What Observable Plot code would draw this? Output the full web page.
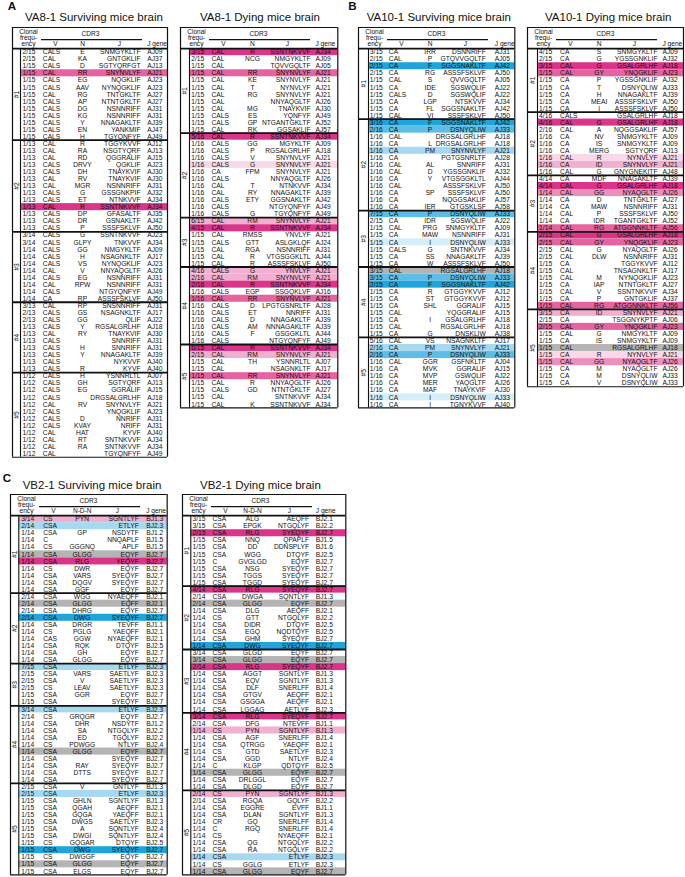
<!DOCTYPE html>
<html><head><meta charset="utf-8">
<script src="https://cdn.jsdelivr.net/npm/d3@7"></script>
<script src="https://cdn.jsdelivr.net/npm/@observablehq/plot@0.6"></script>
<style>
body{margin:0;background:#fff;font-family:"Liberation Sans",Arial,Helvetica,sans-serif;color:#111;}
#page{position:relative;width:685px;height:877px;overflow:hidden;background:#fff;}
.letter{position:absolute;font-weight:bold;font-size:11.6px;line-height:1;}
.title{position:absolute;font-size:11.5px;line-height:1;white-space:nowrap;}
.tbl{position:absolute;}
.tbl svg{display:block;}
</style></head><body><div id="page"></div>
<script>
// ---------- DATA ----------
const panelLetters = ["A","B","C"];
const tableTitles = ["VA8-1 Surviving mice brain","VA8-1 Dying mice brain","VA10-1 Surviving mice brain","VA10-1 Dying mice brain","VB2-1 Surviving mice brain","VB2-1 Dying mice brain"];
const headerFreq = ["Clonal","frequ-","ency"];
const headerCDR3 = "CDR3";
const headerCols = ["V","J","J gene"];
const nLabels = ["N","N","N","N","N-D-N","N-D-N"];
// highlight categories -> colours
const hlKeys = ["P5","P4","P3","P2","P1","B4","B3","B2","B1","G"];
const hlColors = ["#db3589","#e5649f","#ec8fbd","#f2b0d0","#f9d8e8","#1fa5db","#5dbde7","#a6d9f0","#d5edf8","#b4b4b4"];

// rows: [mouse, clonal frequency, V, N, J, J gene, highlight]
const va8SurvRows = [
["#1","2/15","CALS","E","SNMGYKLTF","AJ09",""],
["#1","2/15","CAL","KA","GNTGKLIF","AJ37",""],
["#1","1/15","CALS","D","SGTYQRFGT","AJ13",""],
["#1","1/15","CAL","RR","SNYNVLYF","AJ21","P4"],
["#1","1/15","CALS","EG","NQGKLIF","AJ23",""],
["#1","1/15","CALS","AAV","NYNQGKLIF","AJ23",""],
["#1","1/15","CAL","RG","TNTGKLTF","AJ27",""],
["#1","1/15","CALS","AP","NTNTGKLTF","AJ27",""],
["#1","1/15","CALS","DG","NSNNRIFF","AJ31",""],
["#1","1/15","CALS","KG","NSNNRIFF","AJ31",""],
["#1","1/15","CALS","Y","NNAGAKLTF","AJ39",""],
["#1","1/15","CALS","EN","YANKMIF","AJ47",""],
["#1","1/15","CALS","H","TGYQNFYF","AJ49",""],
["#2","1/13","CAL","R","TGGYKVVF","AJ12",""],
["#2","1/13","CAL","RA","NSGTYQRF","AJ13",""],
["#2","1/13","CAL","RD","QGGRALIF","AJ15",""],
["#2","1/13","CALS","DRVY","QGKLIF","AJ23",""],
["#2","1/13","CALS","DH","TNAYKVIF","AJ30",""],
["#2","1/13","CAL","RV","TNAYKVIF","AJ30",""],
["#2","1/13","CAL","MGR","NSNNRIFF","AJ31",""],
["#2","1/13","CALS","G","GSSGNKPIF","AJ32",""],
["#2","1/13","CALS","ET","NTNKVVF","AJ34",""],
["#2","1/13","CAL","R","SSNTNKVVF","AJ34","P5"],
["#2","1/13","CALS","DP","GFASALTF","AJ35",""],
["#2","1/13","CALS","DR","GSNAKLTF","AJ42",""],
["#2","1/13","CALS","P","SSSFSKLVF","AJ50",""],
["#3","3/14","CALS","G","SSNTNKVVF","AJ23",""],
["#3","3/14","CALS","GLPY","TNKVVF","AJ34",""],
["#3","1/14","CALS","GG","NMGYKLTF","AJ09",""],
["#3","1/14","CALS","H","NSAGNKLTF","AJ17",""],
["#3","1/14","CALS","VS","NYNQGKLIF","AJ23",""],
["#3","1/14","CAL","V","NNYAQGLTF","AJ26",""],
["#3","1/14","CALS","EG","NSNNRIFF","AJ31",""],
["#3","1/14","CAL","RPW","NSNNRIFF","AJ31",""],
["#3","1/14","CALS","","NTGYQNFYF","AJ49",""],
["#3","1/14","CA","RP","ASSSFSKLVF","AJ50",""],
["#4","3/13","CAL","RP","SNSNNRIFF","AJ31",""],
["#4","2/13","CALS","GS","NSAGNKLTF","AJ17",""],
["#4","2/13","CALS","GG","QLIF","AJ22",""],
["#4","1/13","CALS","Y","RGSALGRLHF","AJ18",""],
["#4","1/13","CAL","RY","TNAYKVIF","AJ30",""],
["#4","1/13","CALS","","SNNRIFF","AJ31",""],
["#4","1/13","CALS","H","SNNRIFF","AJ31",""],
["#4","1/13","CALS","Y","NNAGAKLTF","AJ39",""],
["#4","1/13","CALS","","NYKVVF","AJ40",""],
["#4","1/13","CALS","R","KYVF","AJ40",""],
["#5","1/12","CALS","H","YSNNRLTL","AJ07",""],
["#5","1/12","CALS","GH","SGTYQRF","AJ13",""],
["#5","1/12","CALS","EG","GGRALIF","AJ15",""],
["#5","1/12","CALS","","DRGSALGRLHF","AJ18",""],
["#5","1/12","CAL","RV","SNYNVLYF","AJ21",""],
["#5","1/12","CALS","","YNQGKLIF","AJ23",""],
["#5","1/12","CALS","D","NNRIFF","AJ31",""],
["#5","1/12","CALS","KVAY","NRIFF","AJ31",""],
["#5","1/12","CAL","HAT","KYVF","AJ40",""],
["#5","1/12","CAL","RT","SNTNKVVF","AJ34",""],
["#5","1/12","CAL","RA","SNTNKVVF","AJ34",""],
["#5","1/12","CAL","","TGYQNFYF","AJ49",""]
];
const va8DyingRows = [
["#1","3/15","CAL","R","SSNTNKVVF","AJ34","P5"],
["#1","2/15","CAL","NCG","NMGYKLTF","AJ09",""],
["#1","1/15","CAL","","TQVVGQLTF","AJ05",""],
["#1","1/15","CAL","RR","SNYNVLYF","AJ21","P4"],
["#1","1/15","CAL","KE","SNYNVLYF","AJ21",""],
["#1","1/15","CAL","T","NYNVLYF","AJ21",""],
["#1","1/15","CAL","RG","SNYNVLYF","AJ21",""],
["#1","1/15","CAL","","NNYAQGLTF","AJ26",""],
["#1","1/15","CAL","MG","TNAYKVIF","AJ30",""],
["#1","1/15","CALS","ES","YQNFYF","AJ49",""],
["#1","1/15","CALS","GP","NTGANTGKLTF","AJ52",""],
["#1","1/15","CAL","RK","GGSAKLIF","AJ57",""],
["#2","5/16","CAL","R","SSNTNKVVF","AJ34","P5"],
["#2","1/16","CALS","GG","MGYKLTF","AJ09",""],
["#2","1/16","CALS","P","RGSALGRLHF","AJ18",""],
["#2","1/16","CALS","V","SNYNVLYF","AJ21",""],
["#2","1/16","CALS","G","SNYNVLYF","AJ21","P1"],
["#2","1/16","CA","FPM","SNYNVLYF","AJ21",""],
["#2","1/16","CALS","","NNYAQGLTF","AJ26",""],
["#2","1/16","CAL","T","NTNKVVF","AJ34",""],
["#2","1/16","CAL","RY","NNAGAKLTF","AJ39",""],
["#2","1/16","CALS","ETY","GGSNAKLTF","AJ42",""],
["#2","1/16","CALS","","NTGYQNFYF","AJ49",""],
["#2","1/16","CALS","G","TGYQNFYF","AJ49",""],
["#3","6/15","CAL","RM","SNYNVLYF","AJ21","P2"],
["#3","4/15","CAL","R","SSNTNKVVF","AJ34","P5"],
["#3","1/15","CAL","RMSS","YNVLYF","AJ21",""],
["#3","1/15","CALS","GTT","ASLGKLQF","AJ24",""],
["#3","1/15","CAL","RGA","NSNNRIFF","AJ31",""],
["#3","1/15","CAL","R","VTGSGGKLTL","AJ44",""],
["#3","1/15","CAL","R","ASSSFSKLVF","AJ50",""],
["#4","4/16","CALS","G","YNVLYF","AJ21","P2"],
["#4","2/16","CAL","RM","SNYNVLYF","AJ21","P2"],
["#4","2/16","CAL","R","SSNTNKVVF","AJ34","P5"],
["#4","1/16","CALS","EGP","SSGQKLVF","AJ16",""],
["#4","1/16","CAL","RR","SNYNVLYF","AJ21","P4"],
["#4","1/16","CALS","D","LPGTGSNRLTF","AJ28",""],
["#4","1/16","CALS","ET","NNRIFF","AJ31",""],
["#4","1/16","CALS","D","NNAGAKLTF","AJ39",""],
["#4","1/16","CALS","AM","NNNAGAKLTF","AJ39",""],
["#4","1/16","CALS","F","GSGGKLTL","AJ44",""],
["#4","1/16","CALS","","NTGYQNFYF","AJ49",""],
["#5","6/15","CAL","R","SSNTNKVVF","AJ34","P5"],
["#5","2/15","CAL","RM","SNYNVLYF","AJ21","P2"],
["#5","1/15","CAL","TH","YSNNRLTL","AJ07",""],
["#5","1/15","CAL","","NSAGNKLTF","AJ17",""],
["#5","1/15","CAL","RR","SNYNVLYF","AJ21","P4"],
["#5","1/15","CAL","R","NNYAQGLTF","AJ26",""],
["#5","1/15","CALS","GD","NTNTGKLTF","AJ27",""],
["#5","1/15","CAL","","SNTNKVVF","AJ34",""],
["#5","1/15","CAL","K","SSNTNKVVF","AJ34",""]
];
const va10SurvRows = [
["#1","3/15","CA","IRR","DSNNRIFF","AJ31",""],
["#1","2/15","CAL","P","GTQVVGQLTF","AJ05",""],
["#1","2/15","CA","F","SGGSNAKLTF","AJ42","B4"],
["#1","2/15","CA","RG","ASSSFSKLVF","AJ50",""],
["#1","1/15","CAL","S","QVVGQLTF","AJ05",""],
["#1","1/15","CA","IDE","SGSWQLIF","AJ22",""],
["#1","1/15","CALS","D","SGSWQLIF","AJ22",""],
["#1","1/15","CA","LGP","NTSKVVF","AJ34",""],
["#1","1/15","CA","FL","SGGSNAKLTF","AJ42",""],
["#1","1/15","CAL","VI","SSSFSKLVF","AJ50",""],
["#2","3/16","CA","F","SGGSNAKLTF","AJ42","B4"],
["#2","2/16","CA","P","DSNYQLIW","AJ33","B3"],
["#2","1/16","CAL","","DRGSALGRLHF","AJ18",""],
["#2","1/16","CA","L","DRGSALGRLHF","AJ18",""],
["#2","1/16","CA","PM","SNYNVLYF","AJ21","B2"],
["#2","1/16","CA","","PGTGSNRLTF","AJ28",""],
["#2","1/16","CAL","AL","SNNRIFF","AJ31",""],
["#2","1/16","CAL","D","YGSSGNKLIF","AJ32",""],
["#2","1/16","CA","Y","VTGSGGKLTL","AJ44",""],
["#2","1/16","CAL","","ASSSFSKLVF","AJ50",""],
["#2","1/16","CA","SP","SSSFSKLVF","AJ50",""],
["#2","1/16","CA","","NQGGSAKLIF","AJ57",""],
["#2","1/16","CA","IER","GTGSKLSF","AJ58",""],
["#3","7/15","CA","P","DSNYQLIW","AJ33","B3"],
["#3","2/15","CA","IDR","SGSWQLIF","AJ22",""],
["#3","1/15","CAL","PRG","SNMGYKLTF","AJ09",""],
["#3","1/15","CA","MAW","NSNNRIFF","AJ31",""],
["#3","1/15","CA","I","DSNYQLIW","AJ33","B1"],
["#3","1/15","CALS","G","SNTNKVVF","AJ34",""],
["#3","1/15","CA","SS","NNAGAKLTF","AJ39",""],
["#3","1/15","CA","W","ASSSFSKLVF","AJ50",""],
["#4","3/15","CAL","","RGSALGRLHF","AJ18","G"],
["#4","3/15","CA","P","DSNYQLIW","AJ33","B3"],
["#4","2/15","CA","F","SGGSNAKLTF","AJ42","B4"],
["#4","1/15","CA","R","GTGGYKVVF","AJ12",""],
["#4","1/15","CA","ST","GTGGYKVVF","AJ12",""],
["#4","1/15","CA","SHL","GGRALIF","AJ15",""],
["#4","1/15","CAL","","YQGGRALIF","AJ15",""],
["#4","1/15","CA","I","GSALGRLHF","AJ18",""],
["#4","1/15","CAL","","RGSALGRLHF","AJ18",""],
["#4","1/15","CA","G","DNSKLIW","AJ38",""],
["#5","5/16","CAL","VS","NSAGNKLTF","AJ17",""],
["#5","2/16","CA","PM","SNYNVLYF","AJ21","B2"],
["#5","2/16","CA","P","DSNYQLIW","AJ33","B3"],
["#5","1/16","CAL","GGR","GSFNKLTF","AJ04",""],
["#5","1/16","CA","MVK","GGRALIF","AJ15",""],
["#5","1/16","CA","MVP","GSWQLIF","AJ22",""],
["#5","1/16","CA","MER","YAQGLTF","AJ26",""],
["#5","1/16","CA","MAF","TNAYKVIF","AJ30",""],
["#5","1/16","CA","I","DSNYQLIW","AJ33","B1"],
["#5","1/16","CA","I","TGNYKVVF","AJ40",""]
];
const va10DyingRows = [
["#1","4/15","CA","S","SNMGYKLTF","AJ09",""],
["#1","2/15","CA","G","YGSSGNKLIF","AJ32",""],
["#1","3/15","CAL","G","GSALGRLHF","AJ18","P5"],
["#1","1/15","CAL","GY","YNQGKLIF","AJ23","P4"],
["#1","1/15","CA","P","YGSSGNKLIF","AJ32",""],
["#1","1/15","CA","T","DSNYQLIW","AJ33",""],
["#1","1/15","CA","H","NNAGAKLTF","AJ39",""],
["#1","1/15","CA","MEAI","ASSSFSKLVF","AJ50",""],
["#1","1/15","CA","I","ASSSFSKLVF","AJ50",""],
["#2","4/16","CALS","","GSALGRLHF","AJ18",""],
["#2","4/16","CAL","G","GSALGRLHF","AJ18","P5"],
["#2","2/16","CAL","A","NQGGSAKLIF","AJ57",""],
["#2","1/16","CA","NV","SNMGYKLTF","AJ09",""],
["#2","1/16","CA","IS","SNMGYKLTF","AJ09",""],
["#2","1/16","CA","MERG","SGTYQRF","AJ13",""],
["#2","1/16","CAL","R","NYNVLYF","AJ21","P1"],
["#2","1/16","CA","ID","SNYNVLYF","AJ21","P2"],
["#2","1/16","CAL","G","GNYGNEKITF","AJ48",""],
["#3","4/14","CA","MDF","NNAGAKLTF","AJ39",""],
["#3","4/14","CAL","G","GSALGRLHF","AJ18","P5"],
["#3","1/14","CAL","GG","NYAQGLTF","AJ26","P3"],
["#3","1/14","CA","D","TNTGKLTF","AJ27",""],
["#3","1/14","CA","MAW","NSNNRIFF","AJ31",""],
["#3","1/14","CAL","P","SSSFSKLVF","AJ50",""],
["#3","1/14","CA","IDR","TGANTGKLTF","AJ52",""],
["#3","1/14","CAL","RG","ATGGNNKLTF","AJ56","P4"],
["#4","2/15","CAL","G","GSALGRLHF","AJ18","P5"],
["#4","2/15","CAL","GY","YNQGKLIF","AJ23","P4"],
["#4","2/15","CAL","G","NYAQGLTF","AJ26",""],
["#4","2/15","CAL","DLW","NSNNRIFF","AJ31",""],
["#4","1/15","CA","","TGGYKVVF","AJ12",""],
["#4","1/15","CAL","","TNSAGNKLTF","AJ17",""],
["#4","1/15","CAL","M","NYNQGKLIF","AJ23",""],
["#4","1/15","CA","IAP","NTNTGKLTF","AJ27",""],
["#4","1/15","CAL","V","SSNTNKVVF","AJ34",""],
["#4","1/15","CA","P","GNTGKLIF","AJ37",""],
["#4","1/15","CAL","RG","ATGGNNKLTF","AJ56","P4"],
["#5","3/15","CA","ID","SNYNVLYF","AJ21","P2"],
["#5","2/15","CA","","TSGGNYKPTF","AJ06",""],
["#5","2/15","CAL","GY","YNQGKLIF","AJ23","P4"],
["#5","1/15","CAL","G","NMGYKLTF","AJ09",""],
["#5","1/15","CA","IS","SNMGYKLTF","AJ09",""],
["#5","1/15","CAL","","RGSALGRLHF","AJ18","G"],
["#5","1/15","CA","R","NYNVLYF","AJ21","P1"],
["#5","1/15","CAL","GG","NYAQGLTF","AJ26","P3"],
["#5","1/15","CA","M","NYAQGLTF","AJ26",""],
["#5","1/15","CA","M","DSNYQLIW","AJ33",""],
["#5","1/15","CA","V","DSNYQLIW","AJ33",""]
];
const vb2SurvRows = [
["#1","3/14","CS","PYN","SGNTLYF","BJ1.3","P2"],
["#1","2/14","CSA","","ETLYF","BJ2.3","B2"],
["#1","1/14","CSA","GP","NSDYTF","BJ1.2",""],
["#1","1/14","C","","NNQAPLF","BJ1.5",""],
["#1","1/14","CS","GGGNQ","APLF","BJ1.5",""],
["#1","1/14","CSA","GLGG","EQYF","BJ2.7","G"],
["#1","1/14","CSA","RLG","YEQYF","BJ2.7","P5"],
["#1","1/14","CS","DWR","EQYF","BJ2.7",""],
["#1","1/14","CSA","VARS","SYEQYF","BJ2.7",""],
["#1","1/14","CSA","DQGV","SYEQYF","BJ2.7",""],
["#1","1/14","CSA","GGF","EQYF","BJ2.7",""],
["#2","2/14","CSA","WGG","NYAEQFF","BJ2.1",""],
["#2","2/14","CSA","GLGG","EQFF","BJ2.1","G"],
["#2","2/14","CSA","DHRG","EQYF","BJ2.7",""],
["#2","2/14","CSA","DWG","SYEQYF","BJ2.7","B4"],
["#2","1/14","CSA","DRGR","TEVFF","BJ1.1",""],
["#2","1/14","CS","PGLG","YAEQFF","BJ2.1",""],
["#2","1/14","CAS","GGW","NYAEQFF","BJ2.1",""],
["#2","1/14","CSA","RQK","DTQYF","BJ2.5",""],
["#2","1/14","CSA","GH","EQYF","BJ2.7",""],
["#2","1/14","CSA","GLGG","EQYF","BJ2.7",""],
["#3","7/15","CSA","","ETLYF","BJ2.3","B2"],
["#3","2/15","CSA","VARS","SAETLYF","BJ2.3",""],
["#3","2/15","CSA","V","SAETLYF","BJ2.3",""],
["#3","2/15","CS","LEAV","SAETLYF","BJ2.3",""],
["#3","1/15","CSA","GGR","EQYF","BJ2.7",""],
["#3","1/15","CSA","","SYEQYF","BJ2.7",""],
["#4","3/14","CSA","","ETLYF","BJ2.3","B2"],
["#4","2/14","CS","GRQGR","EQYF","BJ2.7",""],
["#4","1/14","CSA","DHR","NSDYTF","BJ1.2",""],
["#4","1/14","CSA","SA","NTGQLYF","BJ2.2",""],
["#4","1/14","CSA","ED","TGQLYF","BJ2.2",""],
["#4","1/14","CS","PDWGG","NTLYF","BJ2.4",""],
["#4","1/14","CSA","GLGG","EQYF","BJ2.7","G"],
["#4","1/14","CSA","","SYEQYF","BJ2.7",""],
["#4","1/14","CSA","RAY","SYEQYF","BJ2.7",""],
["#4","1/14","CSA","DTTS","SYEQYF","BJ2.7",""],
["#4","1/14","CSA","","SYEQYF","BJ2.7",""],
["#5","2/15","CSA","V","GNTLYF","BJ1.3",""],
["#5","2/15","CSA","","ETLYF","BJ2.3","B2"],
["#5","1/15","CSA","GHLN","SGNTLYF","BJ1.3",""],
["#5","1/15","CSA","QGAH","AEQFF","BJ2.1",""],
["#5","1/15","CSA","GQGA","YAEQFF","BJ2.1",""],
["#5","1/15","CSA","DWGS","SAETLYF","BJ2.3",""],
["#5","1/15","CSA","A","SQNTLYF","BJ2.4",""],
["#5","1/15","CSA","DWGI","SQNTLYF","BJ2.4",""],
["#5","1/15","CS","GQGAR","DTQYF","BJ2.5",""],
["#5","1/15","CSA","DWG","SYEQYF","BJ2.7","B4"],
["#5","1/15","CS","DWGGF","EQYF","BJ2.7",""],
["#5","1/15","CSA","GLGG","EQYF","BJ2.7","G"],
["#5","1/15","CSA","ELGS","EQYF","BJ2.7",""]
];
const vb2DyingRows = [
["#1","3/15","CSA","ALG","AEQFF","BJ2.1",""],
["#1","3/15","CSA","EPGK","NTGQLYF","BJ2.2",""],
["#1","2/15","CSA","RLG","SYEQYF","BJ2.7","P5"],
["#1","1/15","CSA","NNQ","QPAPLF","BJ1.5",""],
["#1","1/15","CSA","DD","DDNSPLYF","BJ1.6",""],
["#1","1/15","CSA","WGG","DTQYF","BJ2.5",""],
["#1","1/15","C","GVGLGD","EQYF","BJ2.7",""],
["#1","1/15","CSA","NSG","SYEQYF","BJ2.7",""],
["#1","1/15","CSA","TGGS","SYEQYF","BJ2.7",""],
["#1","1/15","CSA","TGGD","SYEQYF","BJ2.7",""],
["#2","4/14","CSA","RLG","SYEQYF","BJ2.7","P5"],
["#2","2/14","CSA","DWGA","SQNTLYF","BJ1.3",""],
["#2","2/14","CSA","GLGG","EQYF","BJ2.7","G"],
["#2","1/14","CSA","DLG","AEQFF","BJ2.1",""],
["#2","1/14","CS","GTT","NTGQLYF","BJ2.2",""],
["#2","1/14","CSA","DIDR","DTQYF","BJ2.5",""],
["#2","1/14","CSA","EGQ","NQDTQYF","BJ2.5",""],
["#2","1/14","CSA","GHM","SYEQYF","BJ2.7",""],
["#2","1/14","CSA","DWG","SYEQYF","BJ2.7","B4"],
["#3","3/14","CSA","GLGD","EQYF","BJ2.7",""],
["#3","3/14","CSA","GLGG","EQYF","BJ2.7","G"],
["#3","2/14","CSA","RLG","SYEQYF","BJ2.7","P5"],
["#3","1/14","CSA","AGGT","SGNTLYF","BJ1.3",""],
["#3","1/14","CSA","EQV","SGNTLYF","BJ1.3",""],
["#3","1/14","CSA","DLF","SNERLFF","BJ1.4",""],
["#3","1/14","CSA","GTGV","AEQFF","BJ2.1",""],
["#3","1/14","CSA","GSGGA","AEQFF","BJ2.1",""],
["#3","1/14","CSA","LGGAG","AETLYF","BJ2.3",""],
["#4","3/14","CSA","RLG","SYEQYF","BJ2.7","P5"],
["#4","2/14","CSA","DFG","NTEVFF","BJ1.1",""],
["#4","1/14","CS","PYN","SGNTLYF","BJ1.3","P2"],
["#4","1/14","CSA","AGF","SNERLFF","BJ1.4",""],
["#4","1/14","CSA","QTRGG","YAEQFF","BJ2.1",""],
["#4","1/14","CS","GTD","SAETLYF","BJ2.3",""],
["#4","1/14","CSA","GGD","NTLYF","BJ2.4",""],
["#4","1/14","C","KLGP","QDTQYF","BJ2.5",""],
["#4","1/14","CSA","GLGG","EQYF","BJ2.7","G"],
["#4","1/14","CSA","DRLGGL","EQYF","BJ2.7",""],
["#4","1/14","CSA","DLGD","EQYF","BJ2.7",""],
["#5","2/14","CS","PYN","SGNTLYF","BJ1.3","P2"],
["#5","2/14","CSA","RGQA","GQLYF","BJ2.2",""],
["#5","1/14","CSA","EGGRE","EVFF","BJ1.1",""],
["#5","1/14","CSA","DLAN","SGNTLYF","BJ1.3",""],
["#5","1/14","CR","GQ","SNERLFF","BJ1.4",""],
["#5","1/14","C","RGQ","SNERLFF","BJ1.4",""],
["#5","1/14","CS","","NYAEQFF","BJ2.1",""],
["#5","1/14","CSA","QG","NTGQLYF","BJ2.2",""],
["#5","1/14","CSA","RA","NTGQLYF","BJ2.2",""],
["#5","1/14","CSA","","ETLYF","BJ2.3","B2"],
["#5","1/14","CS","GGLG","ETLYF","BJ2.3",""],
["#5","1/14","CSA","GLGG","EQYF","BJ2.7","G"]
];

// ---------- LAYOUT (positions / styles only) ----------
const FONT = '"Liberation Sans", Arial, Helvetica, sans-serif';
const rowH = 7.045;
const letterPos = [[7.7,0.2],[348.3,0.2],[2.7,471.8]];
const layouts = [
 {rows:va8SurvRows,  left:12,    top:27.2,  W:155,   inner:8,   cFreq:10,   cV:30.3, cN:70,   cJ:128,   cGene:134.7, tx:25,    ty:11.8},
 {rows:va8DyingRows, left:180,   top:27.2,  W:157.3, inner:9,   cFreq:10.7, cV:31,   cN:72,   cJ:130,   cGene:135,   tx:200,   ty:11.8},
 {rows:va10SurvRows, left:357.7, top:27.2,  W:156.3, inner:10,  cFreq:11.3, cV:30.3, cN:71.6, cJ:127.3, cGene:136.3, tx:366.7, ty:11.8},
 {rows:va10DyingRows,left:526.7, top:27.2,  W:156,   inner:10,  cFreq:11.6, cV:32.6, cN:71.6, cJ:130,   cGene:135,   tx:545,   ty:11.8},
 {rows:vb2SurvRows,  left:10,    top:494.2, W:156.7, inner:8.3, cFreq:10.7, cV:32.7, cN:71.7, cJ:128.3, cGene:135.7, tx:22.7,  ty:479.5},
 {rows:vb2DyingRows, left:181.7, top:494.2, W:163.3, inner:8.3, cFreq:10,   cV:30,   cN:70,   cJ:126.6, cGene:133.3, tx:200,   ty:479.5}
];

const page = document.getElementById("page");
panelLetters.forEach((L, k) => {
  const d = document.createElement("div");
  d.className = "letter"; d.textContent = L;
  d.style.left = letterPos[k][0] + "px"; d.style.top = letterPos[k][1] + "px";
  page.appendChild(d);
});

layouts.forEach((t, k) => {
  const ti = document.createElement("div");
  ti.className = "title"; ti.textContent = tableTitles[k];
  ti.style.left = t.tx + "px"; ti.style.top = t.ty + "px";
  page.appendChild(ti);

  const n = t.rows.length;
  const data = t.rows.map((r, i) => ({i, g:r[0], freq:r[1], v:r[2], nn:r[3], j:r[4], gene:r[5], hl:r[6]}));
  const groups = d3.groups(data, d => d.g).map(([g, arr]) => ({g, start: arr[0].i, end: arr[arr.length-1].i + 1}));
  const H = (n + 3) * rowH;
  const fs = 6.7;
  const hdrMid = [
    {x:16, y:-2.36, text:headerFreq[0]},
    {x:16, y:-1.57, text:headerFreq[1]},
    {x:16, y:-0.71, text:headerFreq[2]},
    {x:78, y:-2.13, text:headerCDR3},
    {x:43, y:-0.71, text:headerCols[0]},
    {x:t.cN, y:-0.71, text:nLabels[k]},
    {x:107, y:-0.71, text:headerCols[1]}
  ];
  const hdrStart = [{x:t.cGene, y:-0.71, text:headerCols[2]}];
  const yc = d => d.i + 0.5;
  const plot = Plot.plot({
    width: t.W + 2, height: H + 2,
    marginTop:0, marginRight:0, marginBottom:0, marginLeft:0,
    x: {domain:[0, t.W], range:[1, t.W + 1], axis:null},
    y: {domain:[-3, n], range:[1, H + 1], axis:null},
    color: {type:"ordinal", domain:hlKeys, range:hlColors},
    style: {fontFamily: FONT, background:"transparent", color:"#111", overflow:"visible"},
    marks: [
      Plot.rect(data.filter(d => d.hl), {x1:t.inner, x2:t.W, y1:"i", y2:d => d.i + 1, fill:"hl"}),
      Plot.text(data, {x:t.cFreq, y:yc, text:"freq", textAnchor:"start", fontSize:fs, fill:"#111"}),
      Plot.text(data, {x:t.cV, y:yc, text:"v", textAnchor:"start", fontSize:fs, fill:"#111"}),
      Plot.text(data, {x:t.cN, y:yc, text:"nn", textAnchor:"middle", fontSize:fs, fill:"#111"}),
      Plot.text(data, {x:t.cJ, y:yc, text:"j", textAnchor:"end", fontSize:fs, fill:"#111"}),
      Plot.text(data, {x:t.cGene, y:yc, text:"gene", textAnchor:"start", fontSize:fs, fill:"#111"}),
      Plot.text(groups, {x:t.inner / 2 + 0.3, y:d => (d.start + d.end) / 2, text:"g", rotate:-90, fontSize:fs, fill:"#111"}),
      Plot.text(hdrMid, {x:"x", y:"y", text:"text", textAnchor:"middle", fontSize:6.6, fill:"#111"}),
      Plot.text(hdrStart, {x:"x", y:"y", text:"text", textAnchor:"start", fontSize:6.6, fill:"#111"}),
      Plot.ruleY([-1.28], {x1:29, x2:130, stroke:"#111", strokeWidth:1.1}),
      Plot.ruleY(groups.slice(1), {y:"start", x1:0, x2:t.W, stroke:"#111", strokeWidth:1.8}),
      Plot.ruleY([0], {x1:0, x2:t.W, stroke:"#111", strokeWidth:1.8}),
      Plot.ruleY([-3, n], {x1:0, x2:t.W, stroke:"#111", strokeWidth:1.1}),
      Plot.ruleX([t.inner], {y1:0, y2:n, stroke:"#111", strokeWidth:1.1}),
      Plot.ruleX([0, t.W], {y1:-3, y2:n, stroke:"#111", strokeWidth:1.2})
    ]
  });
  const box = document.createElement("div");
  box.className = "tbl";
  box.style.left = (t.left - 1) + "px"; box.style.top = (t.top - 1) + "px";
  box.style.width = (t.W + 2) + "px";
  box.appendChild(plot);
  page.appendChild(box);
});
</script>
</body></html>
